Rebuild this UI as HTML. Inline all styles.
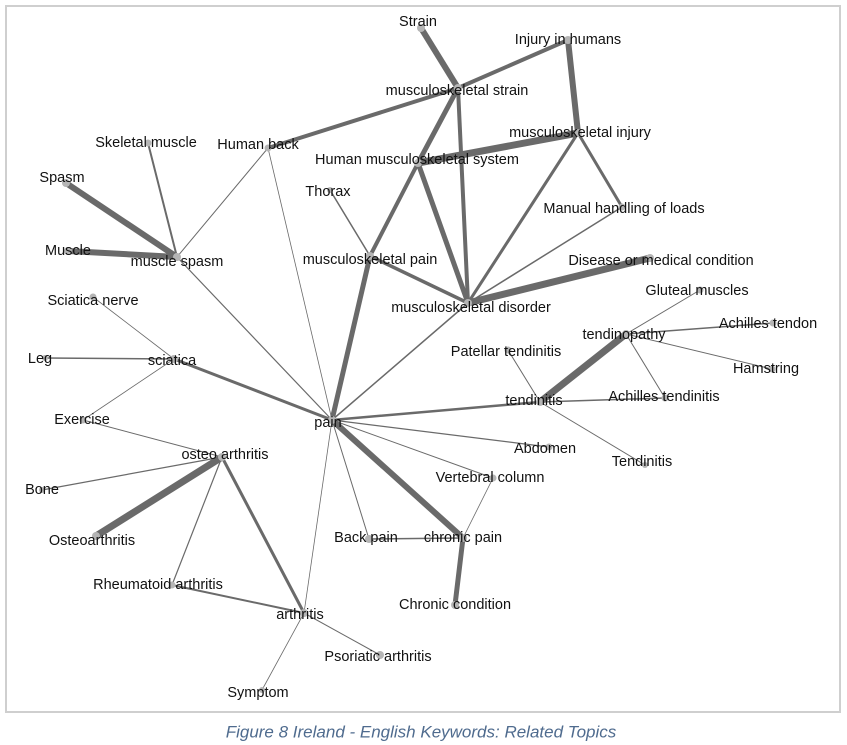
<!DOCTYPE html>
<html><head><meta charset="utf-8"><style>
html,body{margin:0;padding:0;background:#fff;width:847px;height:745px;overflow:hidden}
svg{display:block}
text{font-family:"Liberation Sans",Arial,sans-serif;font-size:14.5px;fill:#111;text-anchor:middle;dominant-baseline:middle}
.c{font-style:italic;fill:#4f6b8e;font-size:17px}
</style></head><body>
<svg width="847" height="745" viewBox="0 0 847 745">
<rect x="6" y="6" width="834" height="706" fill="#fff" stroke="#cfcfcf" stroke-width="2"/>
<g stroke="#6a6a6a" stroke-linecap="round" fill="none">
<line x1="421" y1="28" x2="458" y2="88" stroke-width="6"/>
<line x1="568" y1="40" x2="458" y2="88" stroke-width="4"/>
<line x1="568" y1="40" x2="578" y2="133" stroke-width="6"/>
<line x1="458" y1="88" x2="268" y2="148" stroke-width="4"/>
<line x1="458" y1="88" x2="418" y2="163" stroke-width="5"/>
<line x1="458" y1="88" x2="468" y2="303" stroke-width="4"/>
<line x1="578" y1="133" x2="418" y2="163" stroke-width="7"/>
<line x1="578" y1="133" x2="468" y2="303" stroke-width="3"/>
<line x1="578" y1="133" x2="622" y2="207" stroke-width="3"/>
<line x1="622" y1="207" x2="468" y2="303" stroke-width="1.5"/>
<line x1="418" y1="163" x2="370" y2="256" stroke-width="4"/>
<line x1="418" y1="163" x2="468" y2="303" stroke-width="5"/>
<line x1="370" y1="256" x2="468" y2="303" stroke-width="3.5"/>
<line x1="330" y1="190" x2="370" y2="256" stroke-width="1.5"/>
<line x1="370" y1="256" x2="332" y2="420" stroke-width="5"/>
<line x1="468" y1="303" x2="650" y2="258" stroke-width="7"/>
<line x1="468" y1="303" x2="332" y2="420" stroke-width="1.5"/>
<line x1="268" y1="148" x2="177" y2="257" stroke-width="1"/>
<line x1="268" y1="148" x2="332" y2="420" stroke-width="0.8"/>
<line x1="148" y1="143" x2="177" y2="257" stroke-width="2"/>
<line x1="66" y1="183" x2="177" y2="257" stroke-width="6"/>
<line x1="68" y1="251" x2="177" y2="257" stroke-width="6"/>
<line x1="177" y1="257" x2="332" y2="420" stroke-width="1.2"/>
<line x1="93" y1="297" x2="174" y2="359" stroke-width="0.8"/>
<line x1="45" y1="358" x2="174" y2="359" stroke-width="1.5"/>
<line x1="83" y1="420" x2="174" y2="359" stroke-width="0.8"/>
<line x1="174" y1="359" x2="332" y2="420" stroke-width="3"/>
<line x1="332" y1="420" x2="540" y2="402" stroke-width="2.5"/>
<line x1="540" y1="402" x2="626" y2="334" stroke-width="7"/>
<line x1="540" y1="402" x2="665" y2="398" stroke-width="1.5"/>
<line x1="540" y1="402" x2="508" y2="350" stroke-width="1"/>
<line x1="540" y1="402" x2="645" y2="465" stroke-width="1"/>
<line x1="626" y1="334" x2="700" y2="290" stroke-width="1"/>
<line x1="626" y1="334" x2="773" y2="323" stroke-width="1.5"/>
<line x1="626" y1="334" x2="772" y2="369" stroke-width="1"/>
<line x1="626" y1="334" x2="665" y2="398" stroke-width="1"/>
<line x1="332" y1="420" x2="549" y2="447" stroke-width="1.2"/>
<line x1="332" y1="420" x2="493" y2="478" stroke-width="1"/>
<line x1="332" y1="420" x2="463" y2="538" stroke-width="6"/>
<line x1="332" y1="420" x2="369" y2="539" stroke-width="1"/>
<line x1="332" y1="420" x2="304" y2="613" stroke-width="0.8"/>
<line x1="493" y1="478" x2="463" y2="538" stroke-width="0.8"/>
<line x1="369" y1="539" x2="463" y2="538" stroke-width="1.5"/>
<line x1="463" y1="538" x2="455" y2="605" stroke-width="5"/>
<line x1="83" y1="420" x2="222" y2="457" stroke-width="1"/>
<line x1="222" y1="457" x2="42" y2="490" stroke-width="1.2"/>
<line x1="222" y1="457" x2="96" y2="536" stroke-width="7"/>
<line x1="222" y1="457" x2="172" y2="585" stroke-width="1.2"/>
<line x1="222" y1="457" x2="304" y2="613" stroke-width="3"/>
<line x1="172" y1="585" x2="304" y2="613" stroke-width="2"/>
<line x1="304" y1="613" x2="380" y2="655" stroke-width="1"/>
<line x1="304" y1="613" x2="262" y2="690" stroke-width="0.8"/>
</g>
<g fill="#b5b5b5">
<circle cx="421" cy="28" r="4"/><circle cx="568" cy="40" r="4"/><circle cx="458" cy="88" r="4"/><circle cx="578" cy="133" r="4"/><circle cx="268" cy="148" r="3.5"/><circle cx="148" cy="143" r="3.5"/><circle cx="418" cy="163" r="4"/><circle cx="330" cy="190" r="3"/><circle cx="622" cy="207" r="3.5"/><circle cx="66" cy="183" r="4"/><circle cx="68" cy="251" r="4"/><circle cx="177" cy="257" r="4"/><circle cx="370" cy="256" r="4"/><circle cx="650" cy="258" r="4"/><circle cx="468" cy="303" r="4"/><circle cx="700" cy="290" r="3.5"/><circle cx="773" cy="323" r="3.5"/><circle cx="626" cy="334" r="4"/><circle cx="93" cy="297" r="3.5"/><circle cx="508" cy="350" r="3.5"/><circle cx="45" cy="358" r="3"/><circle cx="174" cy="359" r="4"/><circle cx="772" cy="369" r="3.5"/><circle cx="665" cy="398" r="3.5"/><circle cx="540" cy="402" r="4"/><circle cx="332" cy="420" r="4"/><circle cx="83" cy="420" r="3.5"/><circle cx="549" cy="447" r="3.5"/><circle cx="222" cy="457" r="4"/><circle cx="645" cy="465" r="3"/><circle cx="493" cy="478" r="3.5"/><circle cx="42" cy="490" r="3"/><circle cx="369" cy="539" r="4"/><circle cx="463" cy="538" r="4"/><circle cx="96" cy="536" r="4"/><circle cx="172" cy="585" r="3.5"/><circle cx="455" cy="605" r="4"/><circle cx="304" cy="613" r="4"/><circle cx="380" cy="655" r="4"/><circle cx="262" cy="690" r="3"/>
</g>
<g>
<text x="418" y="22">Strain</text>
<text x="568" y="40">Injury in humans</text>
<text x="457" y="91">musculoskeletal strain</text>
<text x="580" y="133">musculoskeletal injury</text>
<text x="258" y="145">Human back</text>
<text x="146" y="143">Skeletal muscle</text>
<text x="417" y="160">Human musculoskeletal system</text>
<text x="328" y="192">Thorax</text>
<text x="624" y="209">Manual handling of loads</text>
<text x="62" y="178">Spasm</text>
<text x="68" y="251">Muscle</text>
<text x="177" y="262">muscle spasm</text>
<text x="370" y="260">musculoskeletal pain</text>
<text x="661" y="261">Disease or medical condition</text>
<text x="471" y="308">musculoskeletal disorder</text>
<text x="697" y="291">Gluteal muscles</text>
<text x="768" y="324">Achilles tendon</text>
<text x="624" y="335">tendinopathy</text>
<text x="93" y="301">Sciatica nerve</text>
<text x="506" y="352">Patellar tendinitis</text>
<text x="40" y="359">Leg</text>
<text x="172" y="361">sciatica</text>
<text x="766" y="369">Hamstring</text>
<text x="664" y="397">Achilles tendinitis</text>
<text x="534" y="401">tendinitis</text>
<text x="328" y="423">pain</text>
<text x="82" y="420">Exercise</text>
<text x="545" y="449">Abdomen</text>
<text x="225" y="455">osteo arthritis</text>
<text x="642" y="462">Tendinitis</text>
<text x="490" y="478">Vertebral column</text>
<text x="42" y="490">Bone</text>
<text x="366" y="538">Back pain</text>
<text x="463" y="538">chronic pain</text>
<text x="92" y="541">Osteoarthritis</text>
<text x="158" y="585">Rheumatoid arthritis</text>
<text x="455" y="605">Chronic condition</text>
<text x="300" y="615">arthritis</text>
<text x="378" y="657">Psoriatic arthritis</text>
<text x="258" y="693">Symptom</text>
<text class="c" x="421" y="733">Figure 8 Ireland - English Keywords: Related Topics</text>
</g>
</svg>
</body></html>
